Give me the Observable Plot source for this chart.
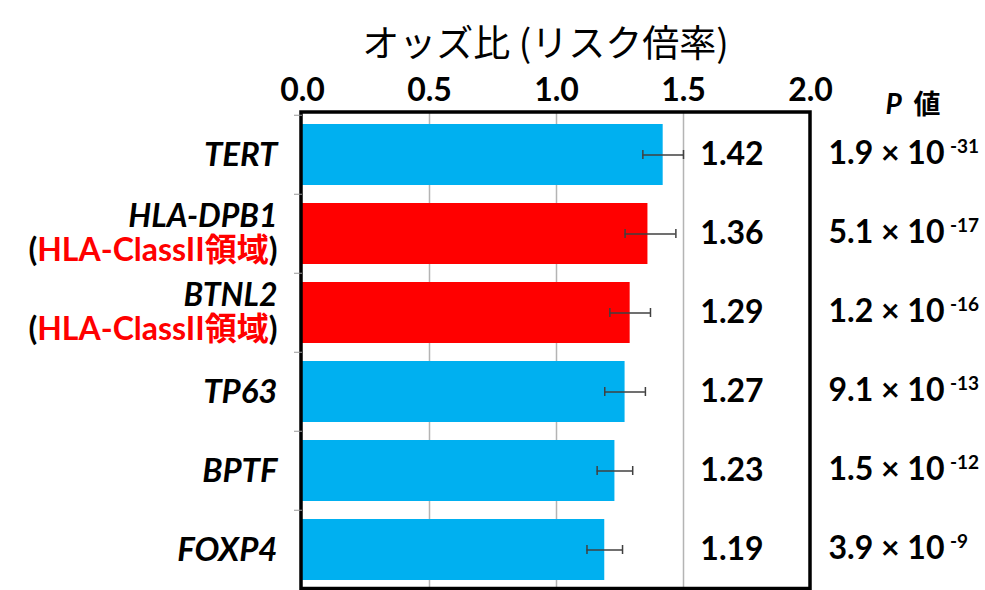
<!DOCTYPE html>
<html><head><meta charset="utf-8">
<script src="https://cdn.jsdelivr.net/npm/d3@7"></script>
<script src="https://cdn.jsdelivr.net/npm/@observablehq/plot@0.6"></script>
<style>body{margin:0;background:#fff;}</style>
</head><body><div id="chart"></div>
<script>
const title = "オッズ比 (リスク倍率)";
const genes = ["TERT", "HLA-DPB1", "BTNL2", "TP63", "BPTF", "FOXP4"];
const regionNotes = ["", "HLA-ClassII領域", "HLA-ClassII領域", "", "", ""];
const oddsRatios = [1.42, 1.36, 1.29, 1.27, 1.23, 1.19];
const ciLower = [1.34, 1.27, 1.21, 1.19, 1.16, 1.12];
const ciUpper = [1.50, 1.47, 1.37, 1.35, 1.30, 1.26];
const pMantissa = ["1.9", "5.1", "1.2", "9.1", "1.5", "3.9"];
const pExponent = ["-31", "-17", "-16", "-13", "-12", "-9"];
const xTicks = [0, 0.5, 1.0, 1.5, 2.0];
const gridTicks = [0.5, 1.0, 1.5];
const pHeaderItalic = "P";
const pHeaderKanji = "値";

const rows = genes.map((g, i) => ({
  gene: g, note: regionNotes[i], or: oddsRatios[i], lo: ciLower[i], hi: ciUpper[i],
  pm: pMantissa[i], pe: pExponent[i], group: regionNotes[i] ? "HLA-ClassII" : "other"
}));

const latin = "Lato, 'Noto Sans CJK JP', sans-serif";
const cjk = "'Noto Sans CJK JP', sans-serif";
const errColor = "#404040";

const chart = Plot.plot({
  width: 985, height: 590,
  marginLeft: 302, marginRight: 175, marginTop: 113, marginBottom: 0,
  style: {fontFamily: latin, background: "white", overflow: "visible", color: "black"},
  x: {domain: [0, 2], label: null},
  y: {domain: genes, paddingInner: 0.233, paddingOuter: 0.1165, label: null},
  color: {domain: ["other", "HLA-ClassII"], range: ["#00B0F0", "#FF0000"]},
  marks: [
    Plot.ruleX(gridTicks, {stroke: "#b4b4b4", strokeWidth: 1.5}),
    Plot.barX(rows, {x: "or", y: "gene", fill: "group"}),
    Plot.ruleY(rows, {x1: "lo", x2: "hi", y: "gene", stroke: errColor, strokeWidth: 1.5}),
    Plot.tickX(rows, {x: "lo", y: "gene", stroke: errColor, strokeWidth: 1.5, insetTop: 26, insetBottom: 26}),
    Plot.tickX(rows, {x: "hi", y: "gene", stroke: errColor, strokeWidth: 1.5, insetTop: 26, insetBottom: 26}),
    Plot.frame({stroke: "black", strokeWidth: 3.5, insetTop: -1.5, insetBottom: 2, insetLeft: -1.5, insetRight: 0.5}),
    Plot.axisX(xTicks, {anchor: "top", tickSize: 0, tickPadding: 13, tickFormat: d3.format(".1f"),
      fontSize: 32, fontWeight: "bold", label: null}),
    Plot.axisY({anchor: "left", tickSize: 8, tickFormat: () => "", dy: -39.75, stroke: "#999", label: null}),
    // one-line gene labels
    Plot.text(rows.filter(d => !d.note), {y: "gene", text: "gene", frameAnchor: "left", dx: -25,
      textAnchor: "end", fontSize: 33, fontWeight: "bold", fontStyle: "italic"}),
    // two-line gene labels
    Plot.text(rows.filter(d => d.note), {y: "gene", text: "gene", frameAnchor: "left", dx: -25, dy: -17,
      textAnchor: "end", fontSize: 32, fontWeight: "bold", fontStyle: "italic"}),
    Plot.text(rows.filter(d => d.note), {y: "gene", text: d => `(${d.note})`, frameAnchor: "left", dx: -25, dy: 17,
      textAnchor: "end", fontSize: 32, fontWeight: "bold"}),
    // odds ratio values
    Plot.text(rows, {y: "gene", text: d => d.or.toFixed(2), frameAnchor: "right", dx: -78.5,
      textAnchor: "middle", fontSize: 32, fontWeight: "bold"}),
    // p values
    Plot.text(rows, {y: "gene", text: d => `${d.pm} × 10`, frameAnchor: "right", dx: 18, dy: -1,
      textAnchor: "start", fontSize: 32, fontWeight: "bold"}),
    Plot.text(rows, {y: "gene", text: "pe", frameAnchor: "right", dx: 139.5, dy: -8,
      textAnchor: "start", fontSize: 19, fontWeight: "bold"}),
    // P header
    Plot.text([pHeaderItalic], {text: d => d, frameAnchor: "top-right", dx: 75, dy: -19,
      textAnchor: "start", fontSize: 28, fontWeight: "bold", fontStyle: "italic"}),
    Plot.text([pHeaderKanji], {text: d => d, frameAnchor: "top-right", dx: 103, dy: -19,
      textAnchor: "start", fontSize: 27, fontWeight: "bold", fontFamily: cjk}),
    // title
    Plot.text([title], {text: d => d, frameAnchor: "top", dx: -11, dy: -83,
      fontSize: 37, fontFamily: cjk, fontWeight: "normal"})
  ]
});

// colour the region name inside the parentheses red
const notes = new Set(regionNotes.filter(n => n).map(n => `(${n})`));
d3.select(chart).selectAll("text").each(function () {
  if (this.children.length) return;
  const t = this.textContent;
  if (!notes.has(t)) return;
  const sel = d3.select(this);
  sel.text(null);
  sel.append("tspan").text("(");
  sel.append("tspan").attr("fill", "#FF0000").text(t.slice(1, -1));
  sel.append("tspan").text(")");
});

document.getElementById("chart").appendChild(chart);
</script>
</body></html>
